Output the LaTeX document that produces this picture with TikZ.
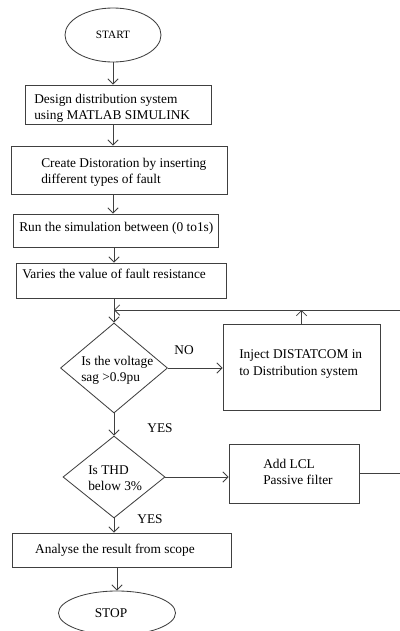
\documentclass[tikz,border=0pt]{standalone}
\usepackage{fontspec}
\setmainfont{Liberation Serif}
\usetikzlibrary{shapes.geometric,arrows.meta}

\tikzset{
  box/.style={draw=black!75, line width=0.6pt, rectangle, inner sep=0pt},
  term/.style={draw=black!75, line width=0.6pt, ellipse, inner sep=0pt},
  dia/.style={draw=black!75, line width=0.6pt, diamond, inner sep=0pt},
  txt/.style={font=\fontsize{9.5}{11.5}\selectfont, align=left, inner sep=0pt},
  flow/.style={draw=black!75, line width=0.6pt, -{Straight Barb[length=1.3mm,width=2.6mm]}},
  line/.style={draw=black!75, line width=0.6pt}
}

\begin{document}
\begin{tikzpicture}[x=0.025cm, y=-0.025cm]
\useasboundingbox (0,0) rectangle (400,631);

%Terminals
\node [term, minimum width=2.4cm, minimum height=1.35cm, font=\fontsize{8}{10}\selectfont] (start) at (113,35) {START};
\node [term, minimum width=2.925cm, minimum height=1.1cm] (stop) at (117,613) {};
\node [txt] (stopText) at (111,613) {STOP};

%Process Boxes
\node [box, minimum width=4.65cm,  minimum height=0.975cm] (design)  at (118,104.5) {};
\node [box, minimum width=5.4cm,   minimum height=1.2cm]   (create)  at (119,170)   {};
\node [box, minimum width=5.125cm, minimum height=0.825cm] (run)     at (115.5,230.5) {};
\node [box, minimum width=5.25cm,  minimum height=0.875cm] (varies)  at (121,280.5) {};
\node [box, minimum width=3.925cm, minimum height=2.15cm]  (inject)  at (301.5,367) {};
\node [box, minimum width=3.25cm,  minimum height=1.475cm] (lcl)     at (294,473.5) {};
\node [box, minimum width=5.475cm, minimum height=0.85cm]  (analyse) at (121.5,550) {};

\node [txt, anchor=west] (designText) at (34,108) {Design distribution system\\using MATLAB SIMULINK};
\node [txt, anchor=west] (createText) at (41,172) {Create Distoration by inserting\\different types of fault};
\node [txt, anchor=west] (runText)    at (19,228) {Run the simulation between (0 to1s)};
\node [txt, anchor=west] (variesText) at (22,274) {Varies the value of fault resistance};
\node [txt, anchor=west] (injectText) at (239,364) {Inject DISTATCOM in\\to Distribution system};
\node [txt, anchor=west] (lclText)    at (263,472) {Add LCL\\Passive filter};
\node [txt] (analyseText) at (115,550) {Analyse the result from scope};

%Decisions
\node [dia, minimum width=2.675cm, minimum height=2.25cm] (sag) at (114,368) {};
\node [dia, minimum width=2.55cm,  minimum height=2.05cm] (thd) at (114,477) {};
\node [txt, anchor=west] (sagText) at (81,370) {Is the voltage\\sag >0.9pu};
\node [txt, anchor=west] (thdText) at (88,478) {Is THD\\below 3\%};

%Labels
\node [txt] (noLabel)   at (184,350) {NO};
\node [txt] (yesSag)    at (160,428) {YES};
\node [txt] (yesThd)    at (150,519) {YES};

%Arrows
\coordinate (loopR) at (400,310);
\coordinate (loopJ) at (114,310);
\draw [flow] (start.south) -- (start.south |- design.north);
\draw [flow] (start.south |- design.south) -- (start.south |- create.north);
\draw [flow] (start.south |- create.south) -- (start.south |- run.north);
\draw [flow] (sag.north |- run.south) -- (sag.north |- varies.north);
\draw [flow] (sag.north |- varies.south) -- (sag.north);
\draw [flow] (loopR) -- (loopJ);
\draw [flow] (inject.north) -- (inject.north |- loopR);
\draw [flow] (sag.east) -- (sag.east -| inject.west);
\draw [flow] (sag.south) -- (thd.north);
\draw [flow] (thd.east) -- (thd.east -| lcl.west);
\draw [line] (lcl.east) -- (lcl.east -| loopR);
\draw [flow] (thd.south) -- (thd.south |- analyse.north);
\draw [flow] (stop.north |- analyse.south) -- (stop.north);

\end{tikzpicture}
\end{document}
